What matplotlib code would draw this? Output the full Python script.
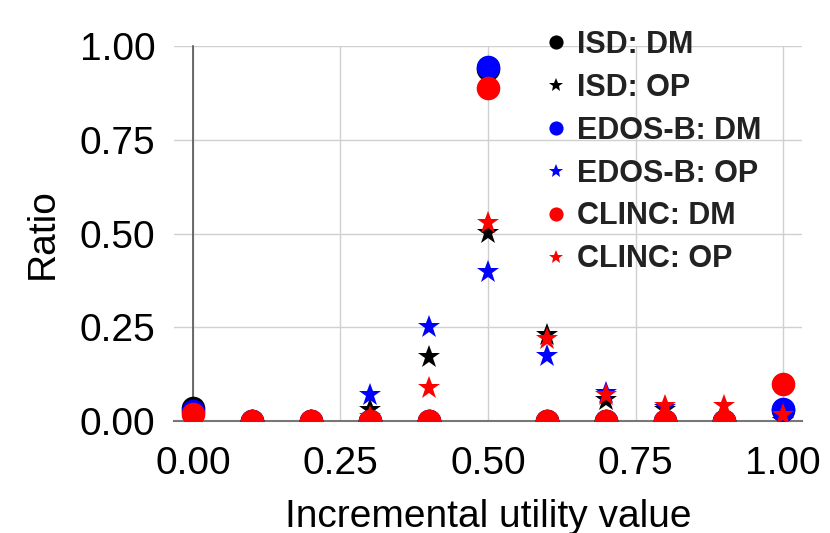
import matplotlib
matplotlib.use("Agg")
import matplotlib.pyplot as plt

plt.rcParams['font.family'] = ['Liberation Sans', 'DejaVu Sans']

x = [0.0, 0.1, 0.2, 0.3, 0.4, 0.5, 0.6, 0.7, 0.8, 0.9, 1.0]

isd_dm    = [0.035, 0.0, 0.0, 0.0, 0.0, 0.94, 0.0, 0.0, 0.0, 0.0, 0.03]
isd_op    = [0.0, 0.0, 0.0, 0.03, 0.171, 0.501, 0.229, 0.055, 0.03, 0.0, 0.0]
edos_dm   = [0.028, 0.0, 0.0, 0.0, 0.0, 0.944, 0.0, 0.0, 0.0, 0.0, 0.032]
edos_op   = [0.0, 0.0, 0.0, 0.069, 0.25, 0.397, 0.173, 0.075, 0.035, 0.0, 0.0]
clinc_dm  = [0.02, 0.0, 0.0, 0.0, 0.0, 0.888, 0.0, 0.0, 0.0, 0.0, 0.098]
clinc_op  = [0.0, 0.0, 0.0, 0.01, 0.088, 0.528, 0.219, 0.07, 0.04, 0.04, 0.015]

series = [
    ("ISD: DM", isd_dm, "black", "o"),
    ("ISD: OP", isd_op, "black", "*"),
    ("EDOS-B: DM", edos_dm, "blue", "o"),
    ("EDOS-B: OP", edos_op, "blue", "*"),
    ("CLINC: DM", clinc_dm, "red", "o"),
    ("CLINC: OP", clinc_op, "red", "*"),
]

xticks = [0.0, 0.25, 0.5, 0.75, 1.0]
yticks = [0.0, 0.25, 0.5, 0.75, 1.0]

fig = plt.figure(figsize=(8.3, 5.33), dpi=100)
ax = fig.add_axes([174/830, 112/533, 628/830, 375/533])

for label, vals, col, mk in series:
    ax.plot(x, vals, linestyle='none', marker=mk, color=col,
            markersize=17, markeredgewidth=0, label=label, zorder=3)

ax.set_xlim(-0.0322, 1.0322)
ax.set_ylim(0, 1.0)
ax.set_xticks(xticks)
ax.set_xticklabels([f"{t:.2f}" for t in xticks])
ax.set_yticks(yticks)
ax.set_yticklabels([f"{t:.2f}" for t in yticks])
ax.tick_params(axis='both', length=0, labelsize=28)
ax.tick_params(axis='x', pad=18)
ax.tick_params(axis='y', pad=27)
ax.grid(True, color='#d0d0d0', linewidth=1)
ax.set_axisbelow(True)

for s in ['top', 'right']:
    ax.spines[s].set_visible(False)
ax.spines['left'].set_position(('data', 0))
ax.spines['left'].set_color('#555555')
ax.spines['left'].set_linewidth(1.2)
ax.spines['bottom'].set_color('#777777')
ax.spines['bottom'].set_linewidth(1.5)

ax.set_xlabel("Incremental utility value", fontsize=28, labelpad=12)
ax.set_ylabel("Ratio", fontsize=28, labelpad=14)

leg = ax.legend(loc='upper left', bbox_to_anchor=(0.574, 1.075), frameon=False,
                markerscale=0.6, prop={'size': 22, 'weight': 'bold'},
                handlelength=0.6, handletextpad=0.4, labelspacing=0.42,
                borderaxespad=0)
for t in leg.get_texts():
    t.set_color('#222222')

fig.savefig("out.png", dpi=100)
